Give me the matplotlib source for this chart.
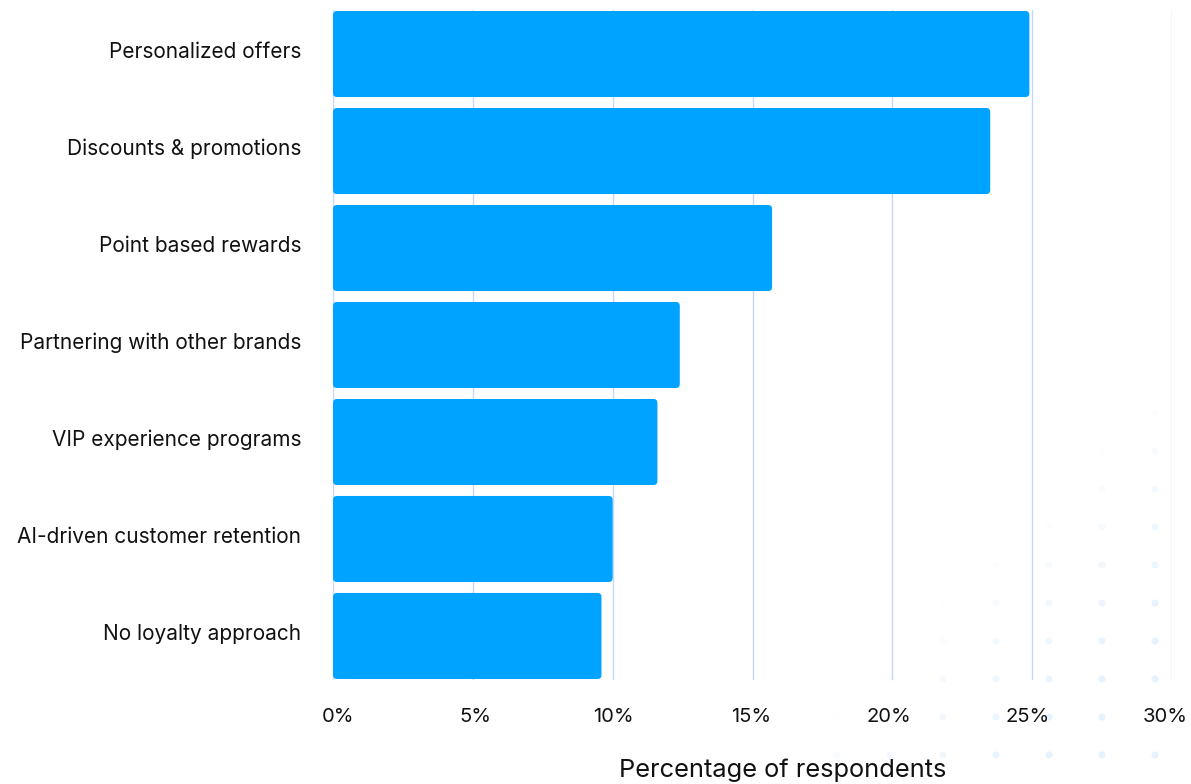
import numpy as np
import matplotlib.pyplot as plt
from matplotlib.patches import FancyBboxPatch
from matplotlib.transforms import ScaledTranslation

plt.rcParams['font.family'] = ['Inter', 'DejaVu Sans']

# loyalty approaches and share of respondents (%)
categories = [
    'Personalized offers',
    'Discounts & promotions',
    'Point based rewards',
    'Partnering with other brands',
    'VIP experience programs',
    'AI-driven customer retention',
    'No loyalty approach',
]
values = [24.9, 23.5, 15.7, 12.4, 11.6, 10.0, 9.6]
xticks = [0, 5, 10, 15, 20, 25, 30]
xtick_labels = ['0%', '5%', '10%', '15%', '20%', '25%', '30%']

W, H = 1191, 784
fig = plt.figure(figsize=(W / 100, H / 100), dpi=100)

# faint dotted pattern in the lower right corner
bg = fig.add_axes([0, 0, 1, 1], zorder=-1)
bg.set_xlim(0, W)
bg.set_ylim(H, 0)
bg.axis('off')
dx, dy = [], []
for px in np.arange(890 - 53 * 3, 1160, 53):
    for py in np.arange(755 - 38 * 12, 760, 38):
        dx.append(px)
        dy.append(py)
dx = np.array(dx)
dy = np.array(dy)
s = (dx - 800) / 350 + (dy - 400) / 350
alpha = np.clip((s - 0.97) * 1.5, 0, 1)
keep = alpha > 0
cols = np.zeros((keep.sum(), 4))
cols[:, :3] = np.array([0xe6, 0xf3, 0xfe]) / 255
cols[:, 3] = alpha[keep]
bg.scatter(dx[keep], dy[keep], s=26, c=cols, linewidths=0)

left, right, top, bottom = 333, 1172, 10, 680
ax = fig.add_axes([left / W, 1 - bottom / H, (right - left) / W, (bottom - top) / H])
ax.patch.set_alpha(0)

n = len(categories)
ax.set_xlim(0, 30)
ax.set_ylim(n - 1 + 0.454, -0.454)

# gridlines under the bars
for t in xticks:
    ax.axvline(t, color='#c2d8ff', lw=1, zorder=0)

# rounded bars
bar_h = 0.887
x_per_px = 30 / (right - left)
y_per_px = (n - 1 + 0.908) / (bottom - top)
radius_px = 4
for i, v in enumerate(values):
    box = FancyBboxPatch(
        (0, i - bar_h / 2), v, bar_h,
        boxstyle=f'round,pad=0,rounding_size={radius_px * x_per_px}',
        mutation_aspect=y_per_px / x_per_px,
        facecolor='#00a3ff', edgecolor='none', zorder=2)
    ax.add_patch(box)

ax.set_yticks(range(n))
ax.set_yticklabels(categories, fontsize=15, color='#111111')
ax.set_xticks(xticks)
ax.set_xticklabels(xtick_labels, fontsize=14.5, color='#111111')
ax.tick_params(axis='y', length=0, pad=23)
ax.tick_params(axis='x', length=0, pad=20)
for sp in ax.spines.values():
    sp.set_visible(False)

# nudge the percent labels so the outer ones sit inside the figure
for i, lbl in enumerate(ax.get_xticklabels()):
    shift = (5 - 12 * i / (len(xticks) - 1)) / 100
    lbl.set_transform(lbl.get_transform() + ScaledTranslation(shift, 0, fig.dpi_scale_trans))
for lbl in ax.get_yticklabels():
    lbl.set_transform(lbl.get_transform() + ScaledTranslation(0, 0.04, fig.dpi_scale_trans))

ax.set_xlabel('Percentage of respondents', fontsize=18.3, color='#111111')
ax.xaxis.set_label_coords((783 - left) / (right - left), -(770 - bottom) / (bottom - top))
ax.xaxis.label.set_va('center')

plt.savefig('out.png', dpi=100)
